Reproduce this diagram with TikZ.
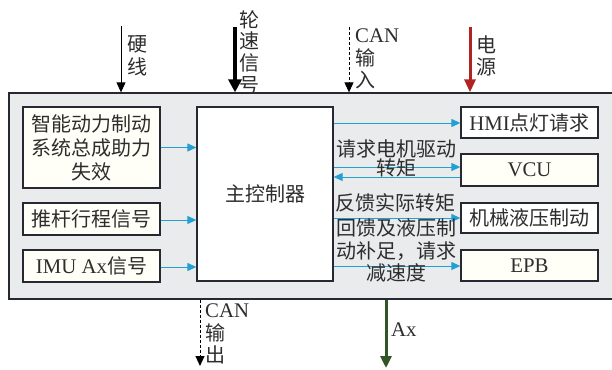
\documentclass[tikz,border=0pt]{standalone}
\usepackage{fontspec}
\setmainfont[Scale=1.04]{Liberation Serif}
\newfontfamily\cjk{Noto Sans CJK SC}
\usetikzlibrary{arrows.meta}
\definecolor{bluearr}{RGB}{35,160,210}
\definecolor{redarr}{RGB}{175,35,35}
\definecolor{greenarr}{RGB}{50,85,40}
\definecolor{outerfill}{RGB}{234,235,237}
\definecolor{boxline}{RGB}{40,40,50}
\definecolor{cream}{RGB}{255,255,247}
\definecolor{txtcol}{RGB}{45,45,45}
\begin{document}
\begin{tikzpicture}[x=1pt,y=-1pt,
  outerbox/.style={draw=boxline, line width=1.3pt, fill=outerfill, inner sep=0pt},
  box/.style={draw=boxline, line width=1.3pt, fill=cream, inner sep=0pt, align=center,
    font=\fontsize{20}{24}\selectfont, text=txtcol},
  txt/.style={font=\fontsize{20}{24}\selectfont, text=txtcol, align=center, inner sep=0pt},
  barr/.style={draw=bluearr, line width=1pt, -{Triangle[length=9pt,width=8pt]}},
  thinarr/.style={draw=black, line width=0.9pt, -{Triangle[length=10pt,width=9pt]}},
  thickarr/.style={draw=black, line width=3.5pt, -{Triangle[length=13pt,width=13pt]}},
  dasharr/.style={draw=black, line width=0.9pt, dash pattern=on 3pt off 2pt, -{Triangle[length=10pt,width=9pt]}},
  redar/.style={draw=redarr, line width=3pt, -{Triangle[length=13pt,width=11pt]}},
  greenar/.style={draw=greenarr, line width=3pt, -{Triangle[length=12pt,width=11pt]}},
]
\useasboundingbox (0,0) rectangle (612,369);

% outer box (its right edge lies beyond the picture)
\node[outerbox, minimum width=608pt, minimum height=206pt] (outer) at (313,196) {};

% left boxes
\node[box, minimum width=137pt, minimum height=81pt] (b1) at (91.5,147.5)
  {\cjk 智能动力制动\\\cjk 系统总成助力\\\cjk 失效};
\node[box, minimum width=137pt, minimum height=32pt] (b2) at (91.5,219) {\cjk 推杆行程信号};
\node[box, minimum width=137pt, minimum height=32pt] (b3) at (91.5,266) {IMU Ax{\cjk 信号}};

% main controller
\node[box, fill=white, minimum width=136pt, minimum height=174pt] (main) at (265,194) {\cjk 主控制器};

% right boxes
\node[box, fill=white, minimum width=137pt, minimum height=31pt] (hmi) at (529.5,122.5) {HMI{\cjk 点灯请求}};
\node[box, minimum width=137pt, minimum height=32pt] (vcu) at (529.5,170) {VCU};
\node[box, fill=white, minimum width=137pt, minimum height=30pt] (mech) at (529.5,218) {\cjk 机械液压制动};
\node[box, minimum width=137pt, minimum height=31pt] (epb) at (529.5,265.5) {EPB};

% left arrows
\draw[barr] (b1.east) -- (b1.east -| main.west);
\draw[barr] ([yshift=-1pt]b2.east) -- ([yshift=-1pt]b2.east -| main.west);
\draw[barr] ([yshift=-1pt]b3.east) -- ([yshift=-1pt]b3.east -| main.west);

% right arrows
\draw[barr] ([yshift=-0.5pt]hmi.west -| main.east) -- ([yshift=-0.5pt]hmi.west);
\draw[barr] ([yshift=3pt]vcu.west -| main.east) -- ([yshift=3pt]vcu.west);
\draw[barr] ([yshift=-7pt]vcu.west) -- ([yshift=-7pt]vcu.west -| main.east);
\draw[barr] (mech.west -| main.east) -- (mech.west);
\draw[barr] ([yshift=-0.5pt]epb.west -| main.east) -- ([yshift=-0.5pt]epb.west);

% right labels
\node[txt, font=\fontsize{20}{19}\selectfont\cjk] (l1) at (396,158.5) {请求电机驱动\\转矩};
\node[txt, font=\fontsize{20}{24}\selectfont\cjk] (l2) at (395,203) {反馈实际转矩};
\node[txt, font=\fontsize{20}{22.5}\selectfont\cjk] (l3) at (396,250.5) {回馈及液压制\\动补足，请求\\减速度};

% top inputs
\coordinate (tyx) at (121,26);
\draw[thinarr] (tyx) -- (tyx |- outer.north);
\node[txt, font=\fontsize{20}{23}\selectfont\cjk] (lyx) at (137,56) {硬\\线};

\coordinate (tls) at (235,27);
\draw[thickarr] (tls) -- (tls |- outer.north);
\node[txt, font=\fontsize{20}{21.7}\selectfont\cjk] (lls) at (249,52) {轮\\速\\信\\号};

\coordinate (tcan) at (349,27);
\draw[dasharr] (tcan) -- (tcan |- outer.north);
\node[txt, align=left, anchor=west, font=\fontsize{20}{22.5}\selectfont] (lcan) at (355,59) {CAN\\{\cjk 输}\\{\cjk 入}};

\coordinate (tpow) at (470,27);
\draw[redar] (tpow) -- (tpow |- outer.north);
\node[txt, font=\fontsize{20}{22}\selectfont\cjk] (lpow) at (486,56) {电\\源};

% bottom outputs
\coordinate (bcan) at (200,366);
\draw[dasharr] (bcan |- outer.south) -- (bcan);
\node[txt, align=left, anchor=west, font=\fontsize{20}{22.5}\selectfont] (lcano) at (205,334) {CAN\\{\cjk 输}\\{\cjk 出}};

\coordinate (bax) at (386,368);
\draw[greenar] (bax |- outer.south) -- (bax);
\node[txt, anchor=west] (lax) at (391,330) {Ax};
\end{tikzpicture}
\end{document}
